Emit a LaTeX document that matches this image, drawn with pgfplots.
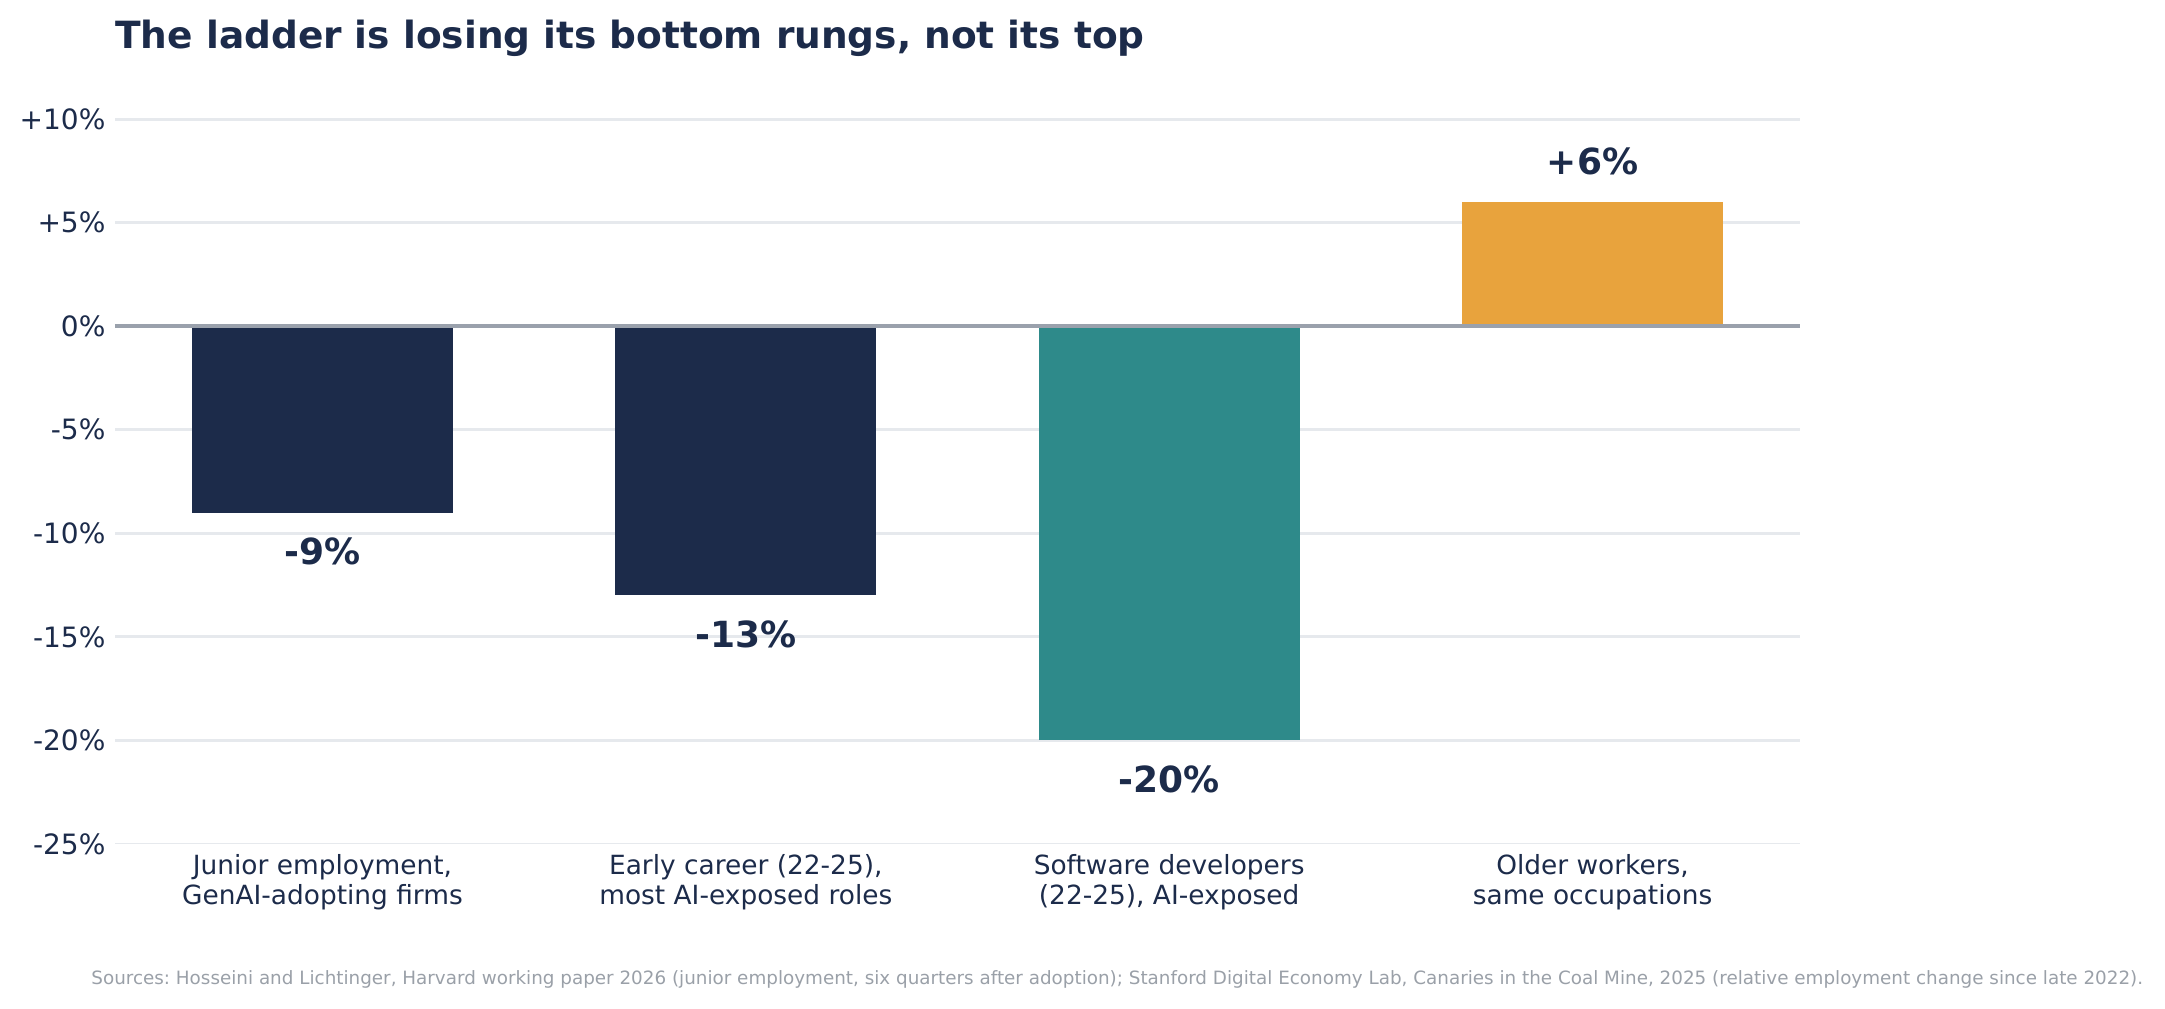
\documentclass[border=0pt]{standalone}
\usepackage{fontspec}
\setmainfont{DejaVu Sans}
\usepackage{pgfplots}
\pgfplotsset{compat=1.18}
\frenchspacing
\definecolor{navy}{HTML}{1C2B4A}
\definecolor{barteal}{HTML}{2E8A8A}
\definecolor{barorange}{HTML}{E8A33D}
\definecolor{gridgray}{HTML}{E6E9ED}
\definecolor{zerogray}{HTML}{9AA1AC}
\definecolor{footgray}{HTML}{9AA0A8}
\begin{document}
\begin{tikzpicture}
\useasboundingbox (-57.5pt,-82pt) rectangle (1025pt,422pt);
\begin{axis}[
  at={(0,0)}, anchor=south west,
  width=842.5pt, height=362.5pt, scale only axis,
  xmin=-0.49, xmax=3.49, ymin=-25, ymax=10,
  clip=false,
  axis lines*=left, axis line style={draw=none},
  major tick length=0pt,
  ytick={-20,-15,-10,-5,0,5,10},
  yticklabels={-20\%,-15\%,-10\%,-5\%,0\%,+5\%,+10\%},
  extra y ticks={-25}, extra y tick labels={-25\%},
  extra y tick style={grid style={gridgray, line width=0.75pt, yshift=0.375pt}},
  xtick={0,1,2,3},
  xticklabels={{Junior employment,\\GenAI-adopting firms},{Early career (22-25),\\most AI-exposed roles},{Software developers\\(22-25), AI-exposed},{Older workers,\\same occupations}},
  ymajorgrids, grid style={gridgray, line width=1.5pt},
  bar width=0.616, bar shift=0pt,
  tick label style={text=navy},
  yticklabel style={font=\fontsize{14}{16}\selectfont, anchor=east, inner sep=0pt, xshift=-4.6pt},
  xticklabel style={font=\fontsize{13.2}{15.2}\selectfont, align=center, anchor=north, inner sep=0pt, yshift=-5pt},
]
\addplot[ybar, fill=navy, draw=none, nodes near coords={-9\%},
  every node near coord/.style={anchor=center, yshift=-19.5pt, text=navy, font=\bfseries\fontsize{18}{20}\selectfont}]
  coordinates {(0,-9)};
\addplot[ybar, fill=navy, draw=none, nodes near coords={-13\%},
  every node near coord/.style={anchor=center, yshift=-19.5pt, text=navy, font=\bfseries\fontsize{18}{20}\selectfont}]
  coordinates {(1,-13)};
\addplot[ybar, fill=barteal, draw=none, nodes near coords={-20\%},
  every node near coord/.style={anchor=center, yshift=-19.5pt, text=navy, font=\bfseries\fontsize{18}{20}\selectfont}]
  coordinates {(2,-20)};
\addplot[ybar, fill=barorange, draw=none, nodes near coords={+6\%},
  every node near coord/.style={anchor=center, yshift=20pt, text=navy, font=\bfseries\fontsize{18}{20}\selectfont}]
  coordinates {(3,6)};
\addplot[sharp plot, no marks, zerogray, line width=1.7pt] coordinates {(-0.49,0) (3.49,0)};
\end{axis}
\node[anchor=base west, inner sep=0pt, text=navy, font=\bfseries\fontsize{18.75}{22}\selectfont] at (0,397.5pt) {The ladder is losing its bottom rungs, not its top};
\node[anchor=base west, inner sep=0pt, text=footgray, font=\fontsize{9.17}{11}\selectfont] at (-12pt,-70.2pt) {Sources: Hosseini and Lichtinger, Harvard working paper 2026 (junior employment, six quarters after adoption); Stanford Digital Economy Lab, Canaries in the Coal Mine, 2025 (relative employment change since late 2022).};
\end{tikzpicture}
\end{document}
